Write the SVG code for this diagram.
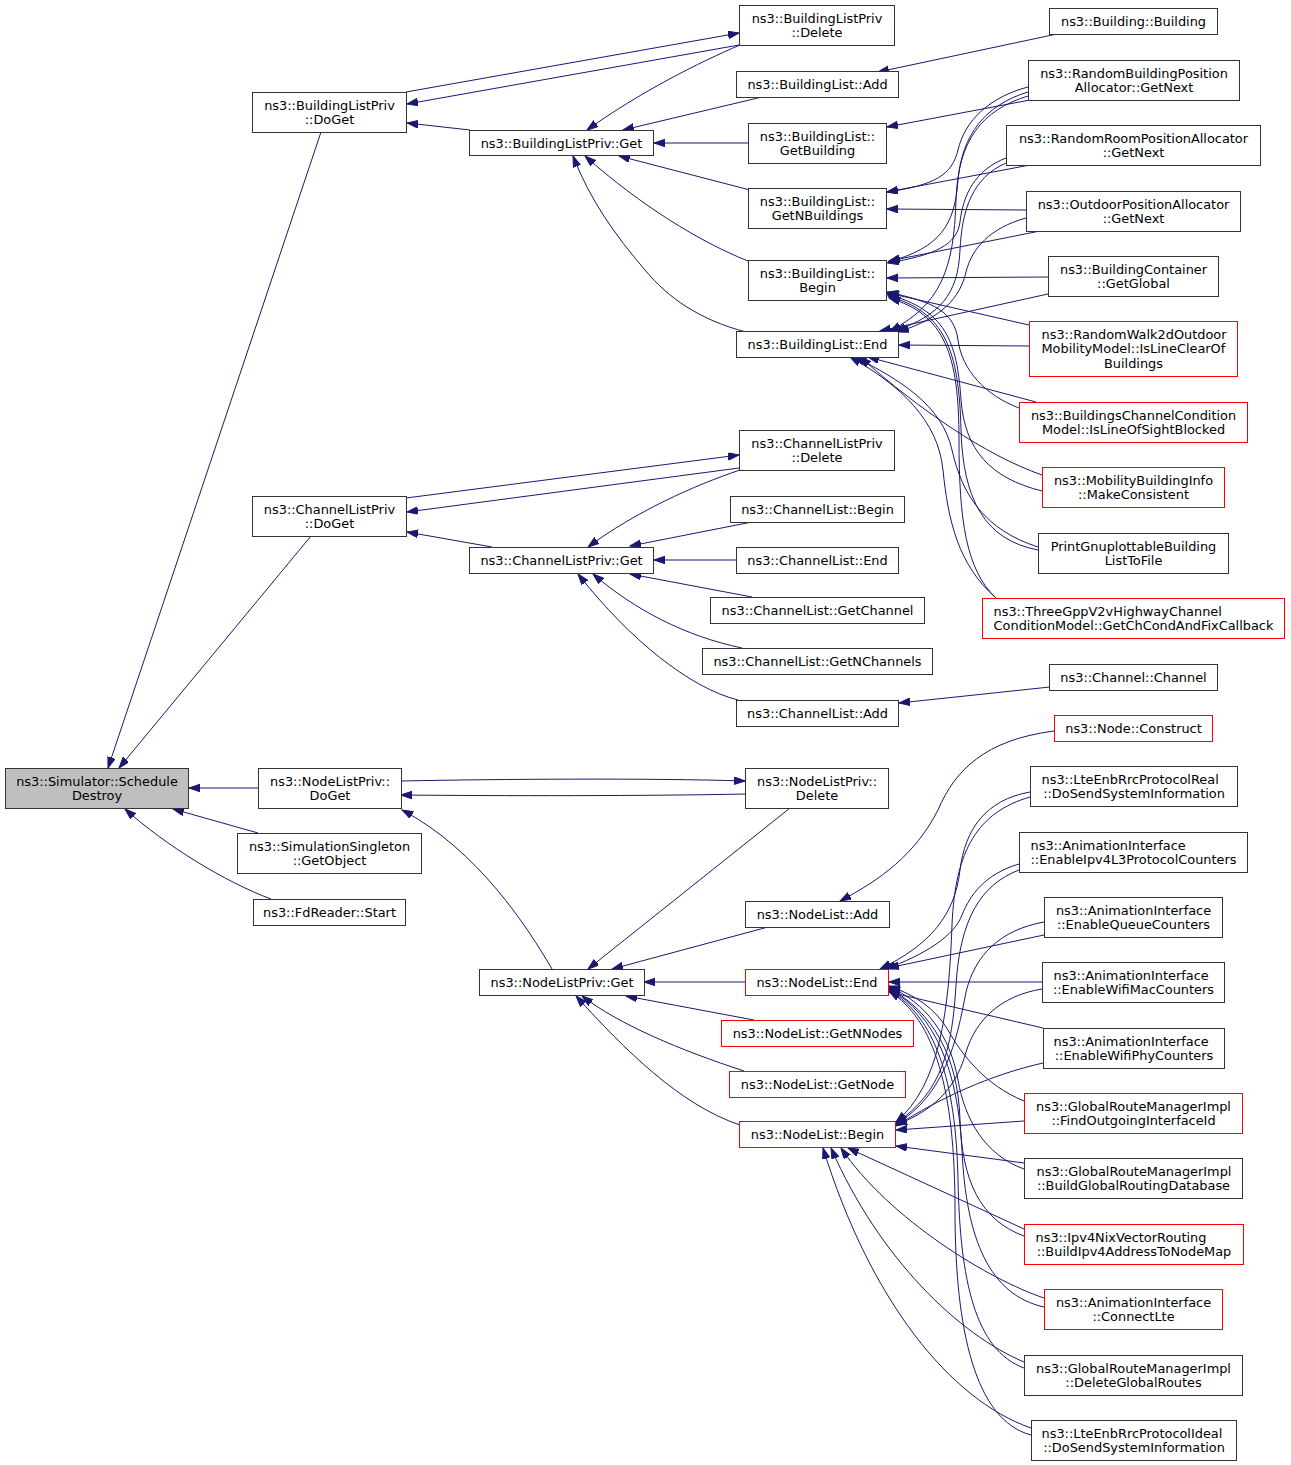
<svg xmlns="http://www.w3.org/2000/svg" width="1291" height="1465" viewBox="0 0 1291 1465">
<style>
.n rect{fill:#ffffff;stroke:#333333;stroke-width:1}
.r rect{stroke:#ff0000}
.g rect{fill:#bfbfbf}
text{font-family:"DejaVu Sans","Liberation Sans",sans-serif;font-size:12.9px;fill:#000000;text-anchor:middle}
text.s{text-anchor:start}
.e path{fill:none;stroke:#191970;stroke-width:1;marker-end:url(#a)}
</style>
<defs>
<marker id="a" markerUnits="userSpaceOnUse" markerWidth="12" markerHeight="9" refX="11" refY="3.8" orient="auto">
<path d="M0,0 L11,3.8 L0,7.6 z" fill="#191970" stroke="#191970" stroke-width="1"/>
</marker>
</defs>
<rect x="0" y="0" width="1291" height="1465" fill="#ffffff"/>
<g id="edges" class="e">
<path d="M321,132 L108,768"/>
<path d="M311,536 L119,768"/>
<path d="M258,788 L189,788"/>
<path d="M258,833 L173,809"/>
<path d="M271,899 C225,882 165,845 125,809"/>
<path d="M470,130 L407,123"/>
<path d="M406,92 L739,33"/>
<path d="M739,45 L407,104"/>
<path d="M740,45 C700,62 640,92 587,130"/>
<path d="M762,97 L623,130"/>
<path d="M748,143 L654,143"/>
<path d="M750,190 L619,156"/>
<path d="M748,261 C700,242 640,205 585,156"/>
<path d="M746,332 C700,320 668,298 645,270 C615,235 590,200 573,156"/>
<path d="M1057,34 L878,72"/>
<path d="M1030,100 L887,127"/>
<path d="M1028,87 C990,97 965,120 958,150 C952,175 935,185 887,192"/>
<path d="M1030,165 L887,192"/>
<path d="M1026,210 L887,209"/>
<path d="M1028,92 C985,105 962,135 958,180 C955,225 940,248 888,262"/>
<path d="M1006,158 C975,170 963,195 960,222 C957,245 935,255 888,263"/>
<path d="M1040,231 L889,261"/>
<path d="M1048,277 L887,278"/>
<path d="M1029,325 L888,293"/>
<path d="M1019,408 C985,395 962,370 958,340 C954,312 935,302 887,292"/>
<path d="M1042,491 C990,478 965,450 961,400 C957,340 945,310 887,294"/>
<path d="M1038,550 C985,540 963,500 961,430 C959,350 945,312 888,296"/>
<path d="M996,598 C966,570 959,520 959,440 C959,355 945,314 889,298"/>
<path d="M1028,96 C982,110 958,140 956,200 C954,270 940,305 890,331"/>
<path d="M1006,163 C972,178 962,210 960,250 C958,295 940,315 895,331"/>
<path d="M1026,218 C990,228 972,248 966,272 C960,298 942,318 898,332"/>
<path d="M1048,294 L880,331"/>
<path d="M1029,346 L899,345"/>
<path d="M1036,402 L868,357"/>
<path d="M1042,475 C985,455 920,410 860,357"/>
<path d="M1038,547 C985,530 962,495 952,450 C942,405 900,380 855,357"/>
<path d="M996,598 C958,565 948,520 943,470 C938,420 900,385 850,357"/>
<path d="M492,547 L407,532"/>
<path d="M406,498 L739,455"/>
<path d="M739,468 L407,512"/>
<path d="M740,470 C695,485 635,512 588,547"/>
<path d="M752,522 L630,546"/>
<path d="M736,560 L654,560"/>
<path d="M752,597 L630,574"/>
<path d="M742,648 C685,636 635,610 593,574"/>
<path d="M738,700 C690,688 630,640 578,574"/>
<path d="M1050,687 L899,703"/>
<path d="M401,781 C500,779 650,778 745,781"/>
<path d="M745,794 C650,796 500,796 401,795"/>
<path d="M790,808 L588,969"/>
<path d="M552,969 C528,928 478,850 402,810"/>
<path d="M768,927 L612,969"/>
<path d="M1054,731 C985,740 955,770 938,810 C915,855 880,880 840,901"/>
<path d="M745,982 L644,982"/>
<path d="M754,1020 L626,996"/>
<path d="M744,1071 C680,1050 620,1025 582,996"/>
<path d="M740,1125 C680,1105 625,1050 576,996"/>
<path d="M1030,792 C985,800 965,830 960,870 C955,915 930,945 880,969"/>
<path d="M1019,864 C985,874 970,895 962,915 C955,935 925,955 885,969"/>
<path d="M1044,935 L888,968"/>
<path d="M1042,982 L889,982"/>
<path d="M1043,1028 L889,992"/>
<path d="M1024,1101 C985,1085 962,1055 948,1030 C935,1008 915,995 889,986"/>
<path d="M1024,1169 C985,1155 965,1120 958,1080 C950,1035 925,1002 889,987"/>
<path d="M1024,1236 C980,1220 962,1180 960,1120 C958,1055 932,1012 889,988"/>
<path d="M1044,1307 C990,1295 966,1240 962,1150 C958,1070 935,1014 889,989"/>
<path d="M1024,1368 C975,1350 960,1280 958,1180 C956,1080 935,1017 889,990"/>
<path d="M1031,1435 C975,1420 955,1330 955,1210 C955,1090 935,1020 889,991"/>
<path d="M1030,797 C978,812 955,850 952,925 C949,1010 940,1085 896,1122"/>
<path d="M1019,870 C980,885 960,920 956,985 C952,1050 942,1092 896,1123"/>
<path d="M1044,922 C1000,930 975,955 966,992 C957,1040 945,1095 896,1124"/>
<path d="M1042,989 C1000,996 976,1020 966,1052 C958,1082 940,1108 896,1125"/>
<path d="M1043,1063 C990,1075 940,1098 896,1126"/>
<path d="M1024,1121 L896,1130"/>
<path d="M1024,1163 L896,1146"/>
<path d="M1024,1229 L848,1148"/>
<path d="M1044,1298 C990,1280 890,1220 841,1148"/>
<path d="M1024,1362 C960,1335 880,1260 831,1148"/>
<path d="M1031,1428 C950,1400 870,1300 823,1148"/>
</g>
<g transform="translate(0.5,0.5)">
<g id="n_schedule" class="n g"><rect x="5" y="768" width="183" height="40"/><text x="96.5" y="785">ns3::Simulator::Schedule</text><text x="96.5" y="799.5">Destroy</text></g>
<g id="n_blp_doget" class="n"><rect x="252" y="92" width="154" height="40"/><text x="329" y="109">ns3::BuildingListPriv</text><text x="329" y="123.5">::DoGet</text></g>
<g id="n_blp_get" class="n"><rect x="469" y="130" width="184" height="25"/><text x="561" y="147">ns3::BuildingListPriv::Get</text></g>
<g id="n_blp_delete" class="n"><rect x="739" y="5" width="155" height="40"/><text x="816.5" y="22">ns3::BuildingListPriv</text><text x="816.5" y="36.5">::Delete</text></g>
<g id="n_bl_add" class="n"><rect x="736" y="71" width="162" height="26"/><text x="817" y="88">ns3::BuildingList::Add</text></g>
<g id="n_bl_getbuilding" class="n"><rect x="748" y="123" width="138" height="40"/><text x="817" y="140">ns3::BuildingList::</text><text x="817" y="154.5">GetBuilding</text></g>
<g id="n_bl_getnbuildings" class="n"><rect x="748" y="188" width="138" height="40"/><text x="817" y="205">ns3::BuildingList::</text><text x="817" y="219.5">GetNBuildings</text></g>
<g id="n_bl_begin" class="n"><rect x="748" y="260" width="138" height="40"/><text x="817" y="277">ns3::BuildingList::</text><text x="817" y="291.5">Begin</text></g>
<g id="n_bl_end" class="n"><rect x="736" y="331" width="162" height="26"/><text x="817" y="348">ns3::BuildingList::End</text></g>
<g id="n_building" class="n"><rect x="1049" y="8" width="168" height="26"/><text x="1133" y="25">ns3::Building::Building</text></g>
<g id="n_rbpa" class="n"><rect x="1028" y="60" width="211" height="40"/><text x="1133.5" y="77">ns3::RandomBuildingPosition</text><text x="1133.5" y="91.5">Allocator::GetNext</text></g>
<g id="n_rroom" class="n"><rect x="1006" y="125" width="254" height="40"/><text x="1133" y="142">ns3::RandomRoomPositionAllocator</text><text x="1133" y="156.5">::GetNext</text></g>
<g id="n_outdoor" class="n"><rect x="1026" y="191" width="214" height="40"/><text x="1133" y="208">ns3::OutdoorPositionAllocator</text><text x="1133" y="222.5">::GetNext</text></g>
<g id="n_bcont" class="n"><rect x="1048" y="256" width="170" height="40"/><text x="1133" y="273">ns3::BuildingContainer</text><text x="1133" y="287.5">::GetGlobal</text></g>
<g id="n_rwalk" class="n r"><rect x="1029" y="321" width="208" height="55"/><text class="s" x="1041" y="338">ns3::RandomWalk2dOutdoor</text><text class="s" x="1041" y="352.7">MobilityModel::IsLineClearOf</text><text x="1133" y="367.4">Buildings</text></g>
<g id="n_bcc" class="n r"><rect x="1019" y="402" width="228" height="40"/><text x="1133" y="419">ns3::BuildingsChannelCondition</text><text x="1133" y="433.5">Model::IsLineOfSightBlocked</text></g>
<g id="n_mbi" class="n r"><rect x="1042" y="467" width="182" height="40"/><text x="1133" y="484">ns3::MobilityBuildingInfo</text><text x="1133" y="498.5">::MakeConsistent</text></g>
<g id="n_print" class="n"><rect x="1038" y="533" width="190" height="40"/><text x="1133" y="550">PrintGnuplottableBuilding</text><text x="1133" y="564.5">ListToFile</text></g>
<g id="n_threegpp" class="n r"><rect x="982" y="598" width="302" height="40"/><text class="s" x="993" y="615">ns3::ThreeGppV2vHighwayChannel</text><text x="1133" y="629.5">ConditionModel::GetChCondAndFixCallback</text></g>
<g id="n_clp_doget" class="n"><rect x="252" y="496" width="154" height="40"/><text x="329" y="513">ns3::ChannelListPriv</text><text x="329" y="527.5">::DoGet</text></g>
<g id="n_clp_get" class="n"><rect x="469" y="547" width="184" height="26"/><text x="561" y="564">ns3::ChannelListPriv::Get</text></g>
<g id="n_clp_delete" class="n"><rect x="739" y="430" width="155" height="40"/><text x="816.5" y="447">ns3::ChannelListPriv</text><text x="816.5" y="461.5">::Delete</text></g>
<g id="n_cl_begin" class="n"><rect x="730" y="496" width="174" height="26"/><text x="817" y="513">ns3::ChannelList::Begin</text></g>
<g id="n_cl_end" class="n"><rect x="736" y="547" width="162" height="26"/><text x="817" y="564">ns3::ChannelList::End</text></g>
<g id="n_cl_getchannel" class="n"><rect x="710" y="597" width="214" height="26"/><text x="817" y="614">ns3::ChannelList::GetChannel</text></g>
<g id="n_cl_getnchannels" class="n"><rect x="702" y="648" width="230" height="26"/><text x="817" y="665">ns3::ChannelList::GetNChannels</text></g>
<g id="n_cl_add" class="n"><rect x="736" y="700" width="162" height="26"/><text x="817" y="717">ns3::ChannelList::Add</text></g>
<g id="n_channel" class="n"><rect x="1049" y="664" width="168" height="26"/><text x="1133" y="681">ns3::Channel::Channel</text></g>
<g id="n_node_construct" class="n r"><rect x="1054" y="715" width="158" height="26"/><text x="1133" y="732">ns3::Node::Construct</text></g>
<g id="n_nlp_doget" class="n"><rect x="258" y="768" width="143" height="40"/><text x="329.5" y="785">ns3::NodeListPriv::</text><text x="329.5" y="799.5">DoGet</text></g>
<g id="n_simsingleton" class="n"><rect x="237" y="833" width="184" height="40"/><text x="329" y="850">ns3::SimulationSingleton</text><text x="329" y="864.5">::GetObject</text></g>
<g id="n_fdreader" class="n"><rect x="253" y="899" width="152" height="26"/><text x="329" y="916">ns3::FdReader::Start</text></g>
<g id="n_nlp_delete" class="n"><rect x="745" y="768" width="143" height="40"/><text x="816.5" y="785">ns3::NodeListPriv::</text><text x="816.5" y="799.5">Delete</text></g>
<g id="n_nl_add" class="n"><rect x="745" y="901" width="144" height="26"/><text x="817" y="918">ns3::NodeList::Add</text></g>
<g id="n_nlp_get" class="n"><rect x="479" y="969" width="165" height="26"/><text x="561.5" y="986">ns3::NodeListPriv::Get</text></g>
<g id="n_nl_end" class="n r"><rect x="745" y="969" width="143" height="26"/><text x="816.5" y="986">ns3::NodeList::End</text></g>
<g id="n_nl_getnnodes" class="n r"><rect x="721" y="1020" width="192" height="26"/><text x="817" y="1037">ns3::NodeList::GetNNodes</text></g>
<g id="n_nl_getnode" class="n r"><rect x="729" y="1071" width="176" height="26"/><text x="817" y="1088">ns3::NodeList::GetNode</text></g>
<g id="n_nl_begin" class="n r"><rect x="739" y="1121" width="156" height="26"/><text x="817" y="1138">ns3::NodeList::Begin</text></g>
<g id="n_ltereal" class="n"><rect x="1030" y="766" width="207" height="40"/><text class="s" x="1041" y="783">ns3::LteEnbRrcProtocolReal</text><text x="1133.5" y="797.5">::DoSendSystemInformation</text></g>
<g id="n_ipv4l3" class="n"><rect x="1019" y="832" width="228" height="40"/><text class="s" x="1030" y="849">ns3::AnimationInterface</text><text x="1133" y="863.5">::EnableIpv4L3ProtocolCounters</text></g>
<g id="n_equeue" class="n"><rect x="1044" y="897" width="178" height="40"/><text x="1133" y="914">ns3::AnimationInterface</text><text x="1133" y="928.5">::EnableQueueCounters</text></g>
<g id="n_wifimac" class="n"><rect x="1042" y="962" width="182" height="40"/><text class="s" x="1053" y="979">ns3::AnimationInterface</text><text x="1133" y="993.5">::EnableWifiMacCounters</text></g>
<g id="n_wifiphy" class="n"><rect x="1043" y="1028" width="181" height="40"/><text class="s" x="1053" y="1045">ns3::AnimationInterface</text><text x="1133.5" y="1059.5">::EnableWifiPhyCounters</text></g>
<g id="n_findout" class="n r"><rect x="1024" y="1093" width="218" height="40"/><text x="1133" y="1110">ns3::GlobalRouteManagerImpl</text><text x="1133" y="1124.5">::FindOutgoingInterfaceId</text></g>
<g id="n_buildglobal" class="n"><rect x="1024" y="1158" width="218" height="40"/><text class="s" x="1036" y="1175">ns3::GlobalRouteManagerImpl</text><text x="1133" y="1189.5">::BuildGlobalRoutingDatabase</text></g>
<g id="n_ipv4nix" class="n r"><rect x="1024" y="1224" width="219" height="40"/><text class="s" x="1035" y="1241">ns3::Ipv4NixVectorRouting</text><text x="1133.5" y="1255.5">::BuildIpv4AddressToNodeMap</text></g>
<g id="n_connectlte" class="n r"><rect x="1044" y="1289" width="178" height="40"/><text x="1133" y="1306">ns3::AnimationInterface</text><text x="1133" y="1320.5">::ConnectLte</text></g>
<g id="n_deleteglobal" class="n"><rect x="1024" y="1355" width="218" height="40"/><text x="1133" y="1372">ns3::GlobalRouteManagerImpl</text><text x="1133" y="1386.5">::DeleteGlobalRoutes</text></g>
<g id="n_lteideal" class="n"><rect x="1031" y="1420" width="205" height="40"/><text class="s" x="1041" y="1437">ns3::LteEnbRrcProtocolIdeal</text><text x="1133.5" y="1451.5">::DoSendSystemInformation</text></g>
</g>
</svg>
